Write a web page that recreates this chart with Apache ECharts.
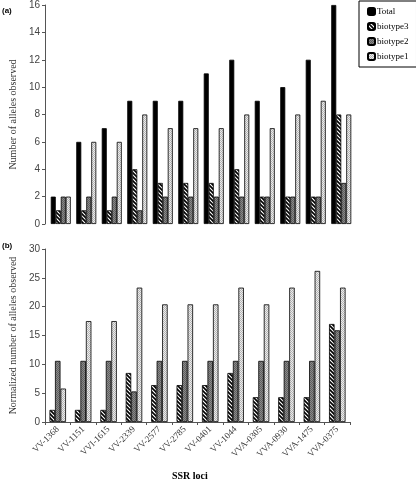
<!DOCTYPE html>
<html><head><meta charset="utf-8">
<script src="https://cdn.jsdelivr.net/npm/echarts@6/dist/echarts.min.js"></script>
<style>html,body{margin:0;padding:0;background:#fff}#c{width:416px;height:483px}</style>
</head><body><div id="c"></div>
<script>
const categories = ['VV-1368','VV-1151','VVI-1615','VV-2339','VV-2577','VV-2785','VV-0401','VV-1044','VVA-0305','VVA-0930','VVA-1475','VVA-0375'];
const totalCounts = [2,6,7,9,9,9,11,12,9,10,12,16];
const biotype3Counts = [1,1,1,4,3,3,3,4,2,2,2,8];
const biotype2Counts = [2,2,2,1,2,2,2,2,2,2,2,3];
const biotype1Counts = [2,6,6,8,7,7,7,8,7,8,9,8];
const biotype3Norm = [2.1,2.1,2.1,8.5,6.4,6.4,6.4,8.5,4.3,4.3,4.3,17.0];
const biotype2Norm = [10.6,10.6,10.6,5.3,10.6,10.6,10.6,10.6,10.6,10.6,10.6,15.9];
const biotype1Norm = [5.8,17.5,17.5,23.3,20.4,20.4,20.4,23.3,20.4,23.3,26.2,23.3];
const topTicks = [0,2,4,6,8,10,12,14,16];
const bottomTicks = [0,5,10,15,20,25,30];

function pat(draw, w, h){const c=document.createElement('canvas');c.width=w;c.height=h;draw(c.getContext('2d'));return {image:c,repeat:'repeat'};}
const stripe = pat(ctx=>{ctx.fillStyle='#fff';ctx.fillRect(0,0,4,4);ctx.strokeStyle='#000';ctx.lineWidth=1.6;
  ctx.beginPath();ctx.moveTo(-1,-1);ctx.lineTo(5,5);ctx.moveTo(-1,3);ctx.lineTo(1,5);ctx.moveTo(3,-1);ctx.lineTo(5,1);ctx.stroke();},4,4);
const dark = pat(ctx=>{ctx.fillStyle='#8a8a8a';ctx.fillRect(0,0,2,2);ctx.fillStyle='#5e5e5e';ctx.fillRect(0,0,1,1);ctx.fillRect(1,1,1,1);},2,2);
const light = pat(ctx=>{ctx.fillStyle='#ececec';ctx.fillRect(0,0,2,2);ctx.fillStyle='#b4b4b4';ctx.fillRect(0,0,1,1);ctx.fillRect(1,1,1,1);},2,2);

const border = {borderColor:'#000',borderWidth:0.8};
const chart = echarts.init(document.getElementById('c'),null,{renderer:'canvas'});
const axisFont = {fontFamily:'Liberation Sans',fontSize:10,color:'#444'};
chart.setOption({
  animation:false,
  legend:{data:['Total','biotype3','biotype2','biotype1'],orient:'vertical',left:359,top:1,width:50,
    itemWidth:7,itemHeight:7,itemGap:6,padding:[6,8,6,8],borderColor:'#000',borderWidth:1,backgroundColor:'#fff',
    textStyle:{fontFamily:'Liberation Serif',fontSize:9,color:'#000',padding:[0,0,0,-3]}},
  grid:[{left:46,top:4,width:308,height:220},{left:44,top:249,width:306,height:173}],
  xAxis:[
    {type:'category',gridIndex:0,data:categories,axisLine:{show:false},axisTick:{show:false},axisLabel:{show:false}},
    {type:'category',gridIndex:1,data:categories,axisLine:{lineStyle:{color:'#555',width:1}},
     axisTick:{show:true,length:3,lineStyle:{color:'#555'}},
     axisLabel:{rotate:45,fontFamily:'Liberation Serif',fontSize:9,color:'#333',margin:6,interval:0}}
  ],
  yAxis:[
    {type:'value',gridIndex:0,min:0,max:16,interval:2,offset:3,
     axisLine:{show:true,lineStyle:{color:'#555'}},axisTick:{show:true,length:3,lineStyle:{color:'#555'}},
     splitLine:{show:false},axisLabel:Object.assign({margin:5},axisFont),
     name:'Number of alleles observed',nameLocation:'middle',nameGap:19,
     nameTextStyle:{fontFamily:'Liberation Serif',fontSize:10,color:'#333'}},
    {type:'value',gridIndex:1,min:0,max:30,interval:5,
     axisLine:{show:true,lineStyle:{color:'#555'}},axisTick:{show:true,length:3,lineStyle:{color:'#555'}},
     splitLine:{show:false},axisLabel:Object.assign({margin:5},axisFont),
     name:'Normalized number of alleles observed',nameLocation:'middle',nameGap:20,
     nameTextStyle:{fontFamily:'Liberation Serif',fontSize:10,color:'#333'}}
  ],
  series:[
    {name:'Total',type:'bar',xAxisIndex:0,yAxisIndex:0,data:totalCounts,barWidth:5,barGap:'0%',itemStyle:Object.assign({color:'#000'},border)},
    {name:'biotype3',type:'bar',xAxisIndex:0,yAxisIndex:0,data:biotype3Counts,barWidth:5,barGap:'0%',itemStyle:Object.assign({color:stripe},border)},
    {name:'biotype2',type:'bar',xAxisIndex:0,yAxisIndex:0,data:biotype2Counts,barWidth:5,barGap:'0%',itemStyle:Object.assign({color:dark},border)},
    {name:'biotype1',type:'bar',xAxisIndex:0,yAxisIndex:0,data:biotype1Counts,barWidth:5,barGap:'0%',itemStyle:Object.assign({color:light},border)},
    {name:'biotype3',type:'bar',xAxisIndex:1,yAxisIndex:1,data:biotype3Norm,barWidth:5.5,barGap:'0%',itemStyle:Object.assign({color:stripe},border)},
    {name:'biotype2',type:'bar',xAxisIndex:1,yAxisIndex:1,data:biotype2Norm,barWidth:5.5,barGap:'0%',itemStyle:Object.assign({color:dark},border)},
    {name:'biotype1',type:'bar',xAxisIndex:1,yAxisIndex:1,data:biotype1Norm,barWidth:5.5,barGap:'0%',itemStyle:Object.assign({color:light},border)}
  ],
  graphic:[
    {type:'text',left:2,top:7,style:{text:'(a)',font:'bold 8px Liberation Sans',fill:'#000'}},
    {type:'text',left:2,top:242,style:{text:'(b)',font:'bold 8px Liberation Sans',fill:'#000'}},
    {type:'text',left:172,top:471,style:{text:'SSR loci',font:'bold 10px Liberation Serif',fill:'#000'}}
  ]
});
</script></body></html>
